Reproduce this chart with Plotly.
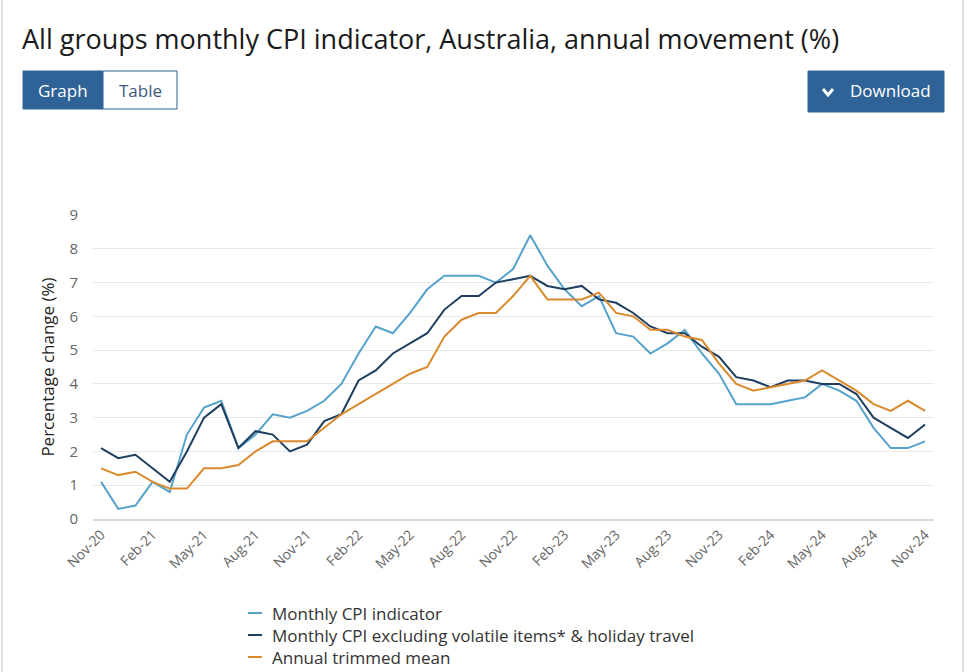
import pandas as pd
import plotly.graph_objects as go

# ---- data ----
months = [d.strftime("%b-%y") for d in pd.date_range("2020-11-01", "2024-11-01", freq="MS")]
tick_labels = months[::3]

monthly_cpi = [1.1, 0.3, 0.4, 1.1, 0.8, 2.5, 3.3, 3.5, 2.1, 2.5, 3.1, 3.0,
               3.2, 3.5, 4.0, 4.9, 5.7, 5.5, 6.1, 6.8, 7.2, 7.2, 7.2, 7.0,
               7.4, 8.4, 7.5, 6.8, 6.3, 6.6, 5.5, 5.4, 4.9, 5.2, 5.6, 4.9,
               4.3, 3.4, 3.4, 3.4, 3.5, 3.6, 4.0, 3.8, 3.5, 2.7, 2.1, 2.1,
               2.3]
excl_volatile = [2.1, 1.8, 1.9, 1.5, 1.1, 2.0, 3.0, 3.4, 2.1, 2.6, 2.5, 2.0,
                 2.2, 2.9, 3.1, 4.1, 4.4, 4.9, 5.2, 5.5, 6.2, 6.6, 6.6, 7.0,
                 7.1, 7.2, 6.9, 6.8, 6.9, 6.5, 6.4, 6.1, 5.7, 5.5, 5.5, 5.1,
                 4.8, 4.2, 4.1, 3.9, 4.1, 4.1, 4.0, 4.0, 3.7, 3.0, 2.7, 2.4,
                 2.8]
trimmed_mean = [1.5, 1.3, 1.4, 1.1, 0.9, 0.9, 1.5, 1.5, 1.6, 2.0, 2.3, 2.3,
                2.3, 2.7, 3.1, 3.4, 3.7, 4.0, 4.3, 4.5, 5.4, 5.9, 6.1, 6.1,
                6.6, 7.2, 6.5, 6.5, 6.5, 6.7, 6.1, 6.0, 5.6, 5.6, 5.4, 5.3,
                4.6, 4.0, 3.8, 3.9, 4.0, 4.1, 4.4, 4.1, 3.8, 3.4, 3.2, 3.5,
                3.2]

series_names = ["Monthly CPI indicator",
                "Monthly CPI excluding volatile items* & holiday travel",
                "Annual trimmed mean"]
series_values = [monthly_cpi, excl_volatile, trimmed_mean]
series_colors = ["#55A2CB", "#1E3F5F", "#DA8A2C"]

# ---- geometry helpers (pixel -> paper) ----
W, H = 975, 672
L, R, T, B = 93, 41, 215, 153
PW, PH = W - L - R, H - T - B


def px(x):
    return (x - L) / PW


def py(y):
    return (H - B - y) / PH


fig = go.Figure()
for name, vals, col in zip(series_names, series_values, series_colors):
    fig.add_trace(go.Scatter(x=months, y=vals, name=name, mode="lines",
                             line=dict(color=col, width=2), showlegend=False))

BLUE = "#2F6296"
shapes = [
    # page frame
    dict(type="line", xref="paper", yref="paper", x0=px(2), x1=px(2), y0=py(0), y1=py(672),
         line=dict(color="#E2E2E2", width=2)),
    dict(type="line", xref="paper", yref="paper", x0=px(963), x1=px(963), y0=py(0), y1=py(672),
         line=dict(color="#E2E2E2", width=2)),
    # Graph / Table toggle
    dict(type="rect", xref="paper", yref="paper", x0=px(23), x1=px(103), y0=py(109), y1=py(71),
         fillcolor=BLUE, line=dict(color=BLUE, width=1)),
    dict(type="rect", xref="paper", yref="paper", x0=px(103), x1=px(177), y0=py(109), y1=py(71),
         fillcolor="white", line=dict(color=BLUE, width=1)),
    # Download button
    dict(type="rect", xref="paper", yref="paper", x0=px(808), x1=px(944), y0=py(112), y1=py(71),
         fillcolor=BLUE, line=dict(color=BLUE, width=1)),
    dict(type="path", xref="paper", yref="paper",
         path=f"M {px(823)},{py(89)} L {px(828)},{py(95)} L {px(833)},{py(89)}",
         line=dict(color="white", width=3)),
]

annotations = [
    dict(text="All groups monthly CPI indicator, Australia, annual movement (%)",
         xref="paper", yref="paper", x=px(20), y=py(38), xanchor="left", yanchor="middle",
         showarrow=False, font=dict(size=27, color="#1a1a1a", family="Open Sans")),
    dict(text="Graph", xref="paper", yref="paper", x=px(63), y=py(90), xanchor="center",
         yanchor="middle", showarrow=False, font=dict(size=17, color="white", family="Open Sans")),
    dict(text="Table", xref="paper", yref="paper", x=px(140), y=py(90), xanchor="center",
         yanchor="middle", showarrow=False, font=dict(size=17, color="#3A5A7C", family="Open Sans")),
    dict(text="Download", xref="paper", yref="paper", x=px(848), y=py(91), xanchor="left",
         yanchor="middle", showarrow=False, font=dict(size=17, color="white", family="Open Sans")),
]

# manual legend (compact rows like the reference)
legend_rows_y = [613, 635, 657]
for name, col, yy in zip(series_names, series_colors, legend_rows_y):
    shapes.append(dict(type="line", xref="paper", yref="paper",
                       x0=px(248), x1=px(262), y0=py(yy), y1=py(yy),
                       line=dict(color=col, width=2)))
    annotations.append(dict(text=name, xref="paper", yref="paper", x=px(271), y=py(yy),
                            xanchor="left", yanchor="middle", showarrow=False, borderpad=0,
                            font=dict(size=17, color="#333", family="Open Sans")))

fig.update_layout(
    width=W, height=H,
    margin=dict(l=L, r=R, t=T, b=B, autoexpand=False),
    paper_bgcolor="white", plot_bgcolor="white",
    font=dict(family="Open Sans", color="#333"),
    shapes=shapes, annotations=annotations,
    showlegend=False,
    xaxis=dict(type="category", range=[-0.47, len(months) - 1 + 0.52],
               tickmode="array", tickvals=tick_labels, ticktext=tick_labels,
               tickangle=-45, tickfont=dict(size=14, color="#666"),
               showgrid=False, showline=True, linecolor="#D9D9D9", linewidth=2,
               ticks="", zeroline=False),
    yaxis=dict(range=[0, 9], dtick=1, tick0=0, tickfont=dict(size=15, color="#666"),
               showgrid=True, gridcolor="#E8E8E8", gridwidth=1, zeroline=False,
               ticks="", ticklabelstandoff=14,
               title=dict(text="Percentage change (%)", standoff=10,
                          font=dict(size=17, color="#222"))),
)

fig.write_html("out.html", config={"displayModeBar": False},
               post_script="document.body.style.margin='0';")
